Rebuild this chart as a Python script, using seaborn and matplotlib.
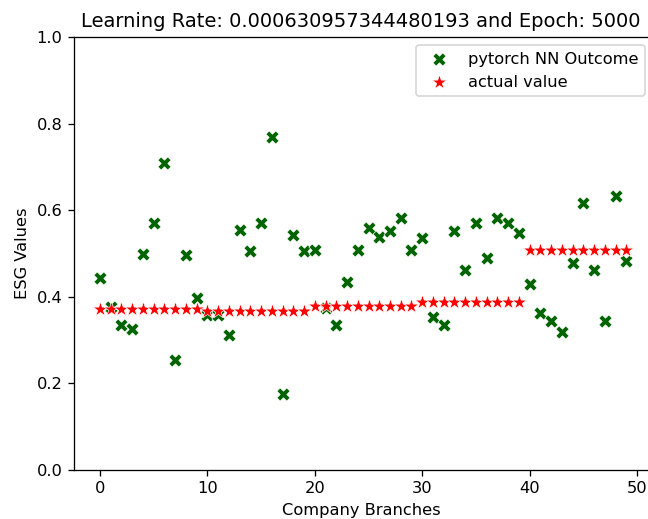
import numpy as np
import pandas as pd
import matplotlib
matplotlib.use("Agg")
import matplotlib.pyplot as plt
import seaborn as sns

branches = list(range(50))
predicted = [0.443, 0.377, 0.335, 0.326, 0.500, 0.570, 0.708, 0.254, 0.497, 0.397,
             0.358, 0.358, 0.312, 0.554, 0.506, 0.570, 0.768, 0.175, 0.543, 0.506,
             0.508, 0.373, 0.335, 0.435, 0.508, 0.558, 0.539, 0.552, 0.583, 0.508,
             0.535, 0.354, 0.335, 0.552, 0.462, 0.570, 0.489, 0.583, 0.570, 0.547,
             0.430, 0.362, 0.345, 0.318, 0.479, 0.616, 0.462, 0.343, 0.633, 0.483]
actual = [0.372] * 10 + [0.367] * 10 + [0.379] * 10 + [0.389] * 10 + [0.508] * 10

title = "Learning Rate: 0.000630957344480193 and Epoch: 5000"
xlabel = "Company Branches"
ylabel = "ESG Values"
label_pred = "pytorch NN Outcome"
label_act = "actual value"

df = pd.DataFrame({"branch": branches, "predicted": predicted, "actual": actual})

dpi = 117
W, H = 648, 519
fig = plt.figure(figsize=(W / dpi, H / dpi), dpi=dpi)
# the reference is cropped at the right: the axes' right spine lies beyond the image edge
left_px, right_px, bottom_px, top_px = 73.7, 648.0, 49.0, 482.0
ax = fig.add_axes([left_px / W, bottom_px / H, (right_px - left_px) / W, (top_px - bottom_px) / H])

sns.scatterplot(data=df, x="branch", y="predicted", marker="X", color="darkgreen",
                s=65, linewidth=0.4, edgecolor="white", label=label_pred, ax=ax)
sns.scatterplot(data=df, x="branch", y="actual", marker="*", color="red",
                s=90, linewidth=0.4, edgecolor="white", label=label_act, ax=ax)

ax.set_xlim(-2.45, 51.02)
ax.set_ylim(0, 1.0)
ax.spines["right"].set_visible(False)
ax.set_xticks([0, 10, 20, 30, 40, 50])
ax.set_yticks([0.0, 0.2, 0.4, 0.6, 0.8, 1.0])
ax.set_title(title, fontsize=12)
ax.set_xlabel(xlabel, fontsize=10)
ax.set_ylabel(ylabel, fontsize=10)
ax.legend(loc="upper right", bbox_to_anchor=(1.0089, 1.0))

fig.savefig("out.png", dpi=dpi)
